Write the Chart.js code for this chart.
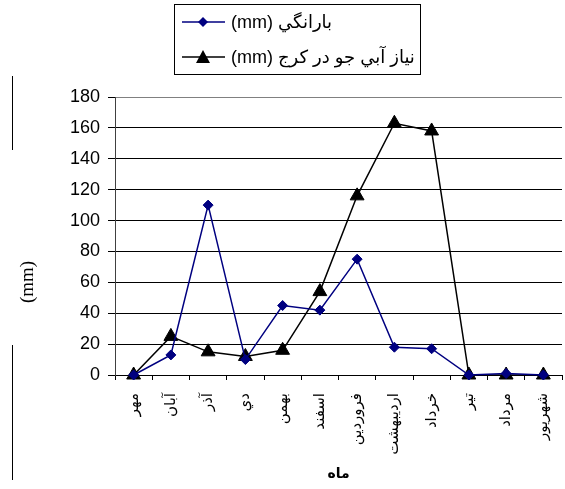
<!DOCTYPE html>
<html>
<head>
<meta charset="utf-8">
<script src="https://cdn.jsdelivr.net/npm/chart.js@4/dist/chart.umd.min.js"></script>
<style>
  html, body { margin: 0; padding: 0; background: #fff; overflow: hidden; }
</style>
</head>
<body>
<canvas id="grafica" width="565" height="489" style="display:block"></canvas>
<script>
// meses (eje x)
var meses = ["مهر", "آبان", "آذر", "دي", "بهمن", "اسفند", "فروردين", "ارديبهشت", "خرداد", "تير", "مرداد", "شهريور"];
// series
var lluvia = [0, 13, 110, 10, 45, 42, 75, 18, 17, 0, 1, 0];
var necesidadAgua = [0, 25, 15, 12, 16, 54, 116, 163, 158, 0, 0, 0];
// textos
var etiquetaLluvia = "(mm) بارانگي";
var etiquetaAgua = "(mm) نياز آبي جو در كرج";
var tituloX = "ماه";
var tituloY = "(mm)";

var azul = "#000080";
var negro = "#000000";

// estirar el area del grafico hasta el borde derecho
var ajusteArea = {
  id: "ajusteArea",
  afterLayout: function (chart) {
    var a = chart.chartArea;
    var x = chart.scales.x;
    a.right = 562;
    a.width = a.right - a.left;
    x.right = 562;
    x.width = x.right - x.left;
    x.configure();
  }
};

// leyenda con recuadro, titulo Y y lineas sueltas
var extras = {
  id: "extras",
  afterDraw: function (chart) {
    var c = chart.ctx;
    c.save();
    c.strokeStyle = "#000";
    c.lineWidth = 1;
    c.strokeRect(174.5, 4.5, 246, 70);

    c.strokeStyle = azul;
    c.lineWidth = 1.5;
    c.beginPath(); c.moveTo(182, 22); c.lineTo(225, 22); c.stroke();
    c.fillStyle = azul;
    c.beginPath();
    c.moveTo(203, 17); c.lineTo(208, 22); c.lineTo(203, 27); c.lineTo(198, 22);
    c.closePath(); c.fill();

    c.strokeStyle = negro;
    c.beginPath(); c.moveTo(182, 57); c.lineTo(225, 57); c.stroke();
    c.fillStyle = negro;
    c.beginPath();
    c.moveTo(203, 50); c.lineTo(210, 63); c.lineTo(196, 63);
    c.closePath(); c.fill();

    c.fillStyle = "#000";
    c.font = "18px 'Liberation Sans', 'DejaVu Sans', sans-serif";
    c.textBaseline = "middle";
    c.textAlign = "left";
    c.fillText(etiquetaLluvia, 231, 23);
    c.fillText(etiquetaAgua, 231, 58);

    c.font = "19px 'Liberation Serif', 'DejaVu Serif', serif";
    c.translate(28, 282);
    c.rotate(-Math.PI / 2);
    c.textAlign = "center";
    c.fillText(tituloY, 0, 0);
    c.restore();

    c.save();
    c.strokeStyle = "#000";
    c.lineWidth = 1;
    c.beginPath();
    c.moveTo(12.5, 76); c.lineTo(12.5, 150);
    c.moveTo(12.5, 345); c.lineTo(12.5, 480);
    c.stroke();
    c.restore();
  }
};

var ctx = document.getElementById("grafica").getContext("2d");

window.myLine = new Chart(ctx, {
  type: "line",
  data: {
    labels: meses,
    datasets: [
      {
        label: etiquetaLluvia,
        data: lluvia,
        borderColor: azul,
        backgroundColor: azul,
        borderWidth: 1.5,
        pointStyle: "rectRot",
        pointRadius: 5,
        pointBorderWidth: 1,
        tension: 0,
        clip: false,
      },
      {
        label: etiquetaAgua,
        data: necesidadAgua,
        borderColor: negro,
        backgroundColor: negro,
        borderWidth: 1.5,
        pointStyle: "triangle",
        pointRadius: 8,
        pointBorderWidth: 1,
        tension: 0,
        clip: false,
      },
    ],
  },
  plugins: [ajusteArea, extras],
  options: {
    responsive: false,
    animation: false,
    events: [],
    layout: {
      padding: { top: 97, right: 3, bottom: 6, left: 0 },
    },
    plugins: {
      legend: { display: false },
      tooltip: { enabled: false },
    },
    scales: {
      x: {
        offset: true,
        afterFit: function (s) {
          s.height = 108;
          s.paddingLeft = 0;
          s.paddingRight = 0;
        },
        grid: {
          offset: true,
          drawOnChartArea: false,
          drawTicks: true,
          tickLength: 5,
          tickColor: "#000",
        },
        border: { color: "#000", width: 1 },
        ticks: {
          color: "#000",
          minRotation: 90,
          maxRotation: 90,
          autoSkip: false,
          padding: 13,
          font: { family: "'DejaVu Sans', sans-serif", size: 15 },
        },
        title: {
          display: true,
          text: tituloX,
          color: "#000",
          padding: { top: 0, bottom: 0 },
          font: { family: "'DejaVu Sans', sans-serif", size: 14, weight: "bold" },
        },
      },
      y: {
        min: 0,
        max: 180,
        afterFit: function (s) {
          s.width = 115;
        },
        grid: {
          color: function (c) {
            return c.tick && c.tick.value === 180 ? "#808080" : "#000";
          },
          tickColor: "#000",
          tickLength: 7,
        },
        border: { color: "#404040", width: 1 },
        ticks: {
          stepSize: 20,
          color: "#000",
          padding: 8,
          font: { family: "'Liberation Sans', Arial, sans-serif", size: 18 },
        },
      },
    },
  },
});
</script>
</body>
</html>
